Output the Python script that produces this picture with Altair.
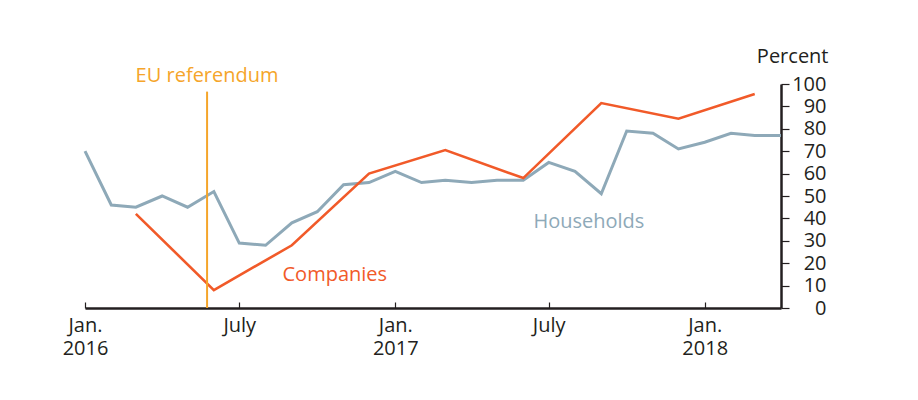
import altair as alt
import pandas as pd

# Households (monthly, Jan 2016 - Apr 2018)
hh_dates = pd.date_range("2016-01-01", "2018-04-01", freq="MS").strftime("%Y-%m-%d").tolist()
hh_values = [70, 46, 45, 50, 45, 52, 29, 28, 38, 43, 55, 56,
             61, 56, 57, 56, 57, 57, 65, 61, 51, 79, 78, 71,
             74, 78, 77, 77]

# Companies (quarterly)
co_dates = ["2016-03-01", "2016-06-01", "2016-09-01", "2016-12-01", "2017-03-01",
            "2017-06-01", "2017-09-01", "2017-12-01", "2018-03-01"]
co_values = [42, 8, 28, 60, 70.5, 58, 91.5, 84.5, 95.5]

# EU referendum marker
ref_date = ["2016-05-24"]
ref_top = [96.6]
ref_label = ["EU referendum"]
ref_label_y = [101]

# Series labels
lab_text = ["Households", "Companies"]
lab_dates = ["2017-06-13", "2016-08-21"]
lab_y = [35.7, 12.0]
lab_series = ["Households", "Companies"]

tick_dates = ["2016-01-01", "2016-07-01", "2017-01-01", "2017-07-01", "2018-01-01"]
y_ticks = [0, 10, 20, 30, 40, 50, 60, 70, 80, 90, 100]

HH_COL = "#8ea9b8"
CO_COL = "#f15a29"
REF_COL = "#f5a52a"
TXT = "#231f20"
FONT = "Open Sans"
FS = 20

hh = pd.DataFrame({"date": hh_dates, "value": hh_values})
co = pd.DataFrame({"date": co_dates, "value": co_values})
ref = pd.DataFrame({"date": ref_date, "top": ref_top, "label": ref_label, "ly": ref_label_y})
labs = pd.DataFrame({"date": lab_dates, "y": lab_y, "text": lab_text, "series": lab_series})


def dt(s):
    y, m, d = [int(p) for p in s.split("-")]
    return alt.DateTime(year=y, month=m, date=d, utc=True)


xscale = alt.Scale(type="utc", domain=[dt("2016-01-01"), dt("2018-04-01")])
yscale = alt.Scale(domain=[0, 100])

xaxis = alt.Axis(
    values=[dt(s) for s in tick_dates],
    labelExpr="utcmonth(datum.value) == 0 ? ['Jan.', '' + utcyear(datum.value)] : 'July'",
    title=None,
    grid=False,
    domainColor=TXT,
    domainWidth=2.5,
    tickColor=TXT,
    tickWidth=1.2,
    tickSize={"expr": "-6"},
    labelPadding=13,
    labelFontSize=FS,
    labelFont=FONT,
    labelColor=TXT,
    labelLineHeight=23,
    labelBaseline="top",
    labelAlign="center",
    labelFlush=False,
    labelOverlap=False,
)

yaxis = alt.Axis(
    orient="right",
    values=y_ticks,
    tickCount=11,
    title="Percent",
    titleAngle=0,
    titleAlign="right",
    titleBaseline="alphabetic",
    titleX=47,
    titleY=-22,
    titleFont=FONT,
    titleFontSize=FS,
    titleFontWeight="normal",
    titleColor=TXT,
    grid=False,
    domainColor=TXT,
    domainWidth=2.5,
    tickColor=TXT,
    tickWidth=1.2,
    tickSize=8,
    labelPadding=37,
    labelAlign="right",
    labelBaseline="middle",
    labelFontSize=FS,
    labelFont=FONT,
    labelColor=TXT,
    labelFlush=False,
    labelOverlap=False,
)


def X(field):
    return alt.X(field, scale=xscale, axis=xaxis)


def Y(field):
    return alt.Y(field, scale=yscale, axis=yaxis)


hh_line = alt.Chart(hh).mark_line(color=HH_COL, strokeWidth=3).encode(
    x=X("date:T"), y=Y("value:Q"),
)

co_line = alt.Chart(co).mark_line(color=CO_COL, strokeWidth=2.6).encode(
    x=X("date:T"), y=Y("value:Q"),
)

ref_rule = alt.Chart(ref).mark_rule(color=REF_COL, strokeWidth=2).encode(
    x=X("date:T"), y=Y("top:Q"), y2=alt.datum(0),
)

ref_text = alt.Chart(ref).mark_text(
    color=REF_COL, fontSize=FS, font=FONT, align="center", baseline="alphabetic"
).encode(
    x=X("date:T"), y=Y("ly:Q"), text="label:N",
)

lab_text_mark = alt.Chart(labs).mark_text(
    fontSize=FS, font=FONT, align="left", baseline="alphabetic"
).encode(
    x=X("date:T"),
    y=Y("y:Q"),
    text="text:N",
    color=alt.Color("series:N",
                    scale=alt.Scale(domain=["Households", "Companies"], range=[HH_COL, CO_COL]),
                    legend=None),
)

chart = alt.layer(hh_line, co_line, ref_rule, ref_text, lab_text_mark).properties(
    width=696,
    height=224,
    autosize=alt.AutoSizeParams(type="none"),
    padding={"left": 77, "top": 76, "right": 120, "bottom": 84},
    background="white",
).configure_view(stroke=None)

chart.save("out.html", embed_options={"renderer": "svg", "actions": False})
